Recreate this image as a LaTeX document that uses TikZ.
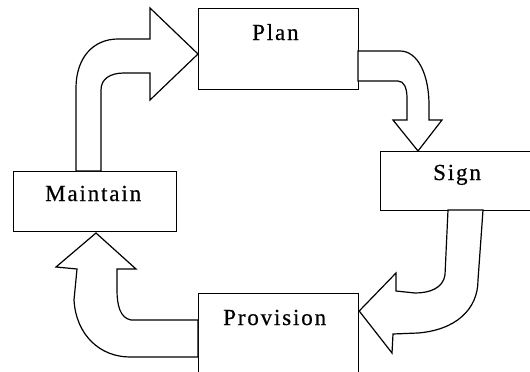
\documentclass[tikz,border=0pt]{standalone}
\usepackage{fontspec}
\setmainfont{Liberation Serif}[LetterSpace=8,FakeBold=0.5]
\begin{document}
\begin{tikzpicture}[x=1pt,y=-1pt,
  stagebox/.style={draw=black,line width=1.2pt,fill=white,minimum width=0pt,minimum height=0pt,inner sep=0pt,anchor=north west},
  stagelabel/.style={inner sep=0pt,anchor=base west,font=\fontsize{23}{27}\selectfont},
  blockarrow/.style={draw=black,line width=1.2pt,fill=white,line join=miter}]
\useasboundingbox (0,0) rectangle (530,372);
\fill[white] (0,0) rectangle (530,372);

% the four stages of the cycle
\node[stagebox,minimum width=160pt,minimum height=81pt] (plan) at (198,8) {};
\node[stagebox,minimum width=160pt,minimum height=59pt] (sign) at (380,151) {};
\node[stagebox,minimum width=163pt,minimum height=60pt] (maintain) at (13,171) {};
\node[stagebox,minimum width=160pt,minimum height=90pt] (provision) at (198,293) {};

\node[stagelabel] (plantext) at (252,40) {Plan};
\node[stagelabel] (signtext) at (433,180) {Sign};
\node[stagelabel] (maintaintext) at (45,201) {Maintain};
\node[stagelabel] (provisiontext) at (223,325) {Provision};

% Maintain -> Plan
\draw[blockarrow] (101,171) -- (101,90) .. controls (101,79) and (110,73) .. (124,73)
  -- (150,73) -- (150,100) -- (plan.west |- 0,54) -- (150,8) -- (150,39) -- (118,39)
  .. controls (93,39) and (76,58) .. (76,88) -- (76,171) -- cycle;

% Plan -> Sign
\draw[blockarrow] (358,51) -- (400,51) .. controls (418,51) and (429,75) .. (429,105)
  -- (429,120) -- (442,120) -- (sign.north -| 418,0) -- (393,120) -- (407,120) -- (407,98)
  .. controls (407,88) and (404,81) .. (398,81) -- (358,81) -- cycle;

% Sign -> Provision
\draw[blockarrow] (448,210) -- (445,275) .. controls (443,288) and (430,293) .. (415,293)
  -- (396,291) -- (396,273) -- (provision.east |- 0,311) -- (392,353) -- (393,334)
  -- (418,333) .. controls (455,330) and (478,310) .. (478,280) -- (483,210) -- cycle;

% Provision -> Maintain
\draw[blockarrow] (198,320) -- (131,320) .. controls (120,318) and (117,305) .. (117,290)
  -- (117,269) -- (136,269) -- (96,233) -- (56,267) -- (77,269) -- (74,300)
  .. controls (76,335) and (100,357) .. (130,357) -- (198,357) -- cycle;
\end{tikzpicture}
\end{document}
